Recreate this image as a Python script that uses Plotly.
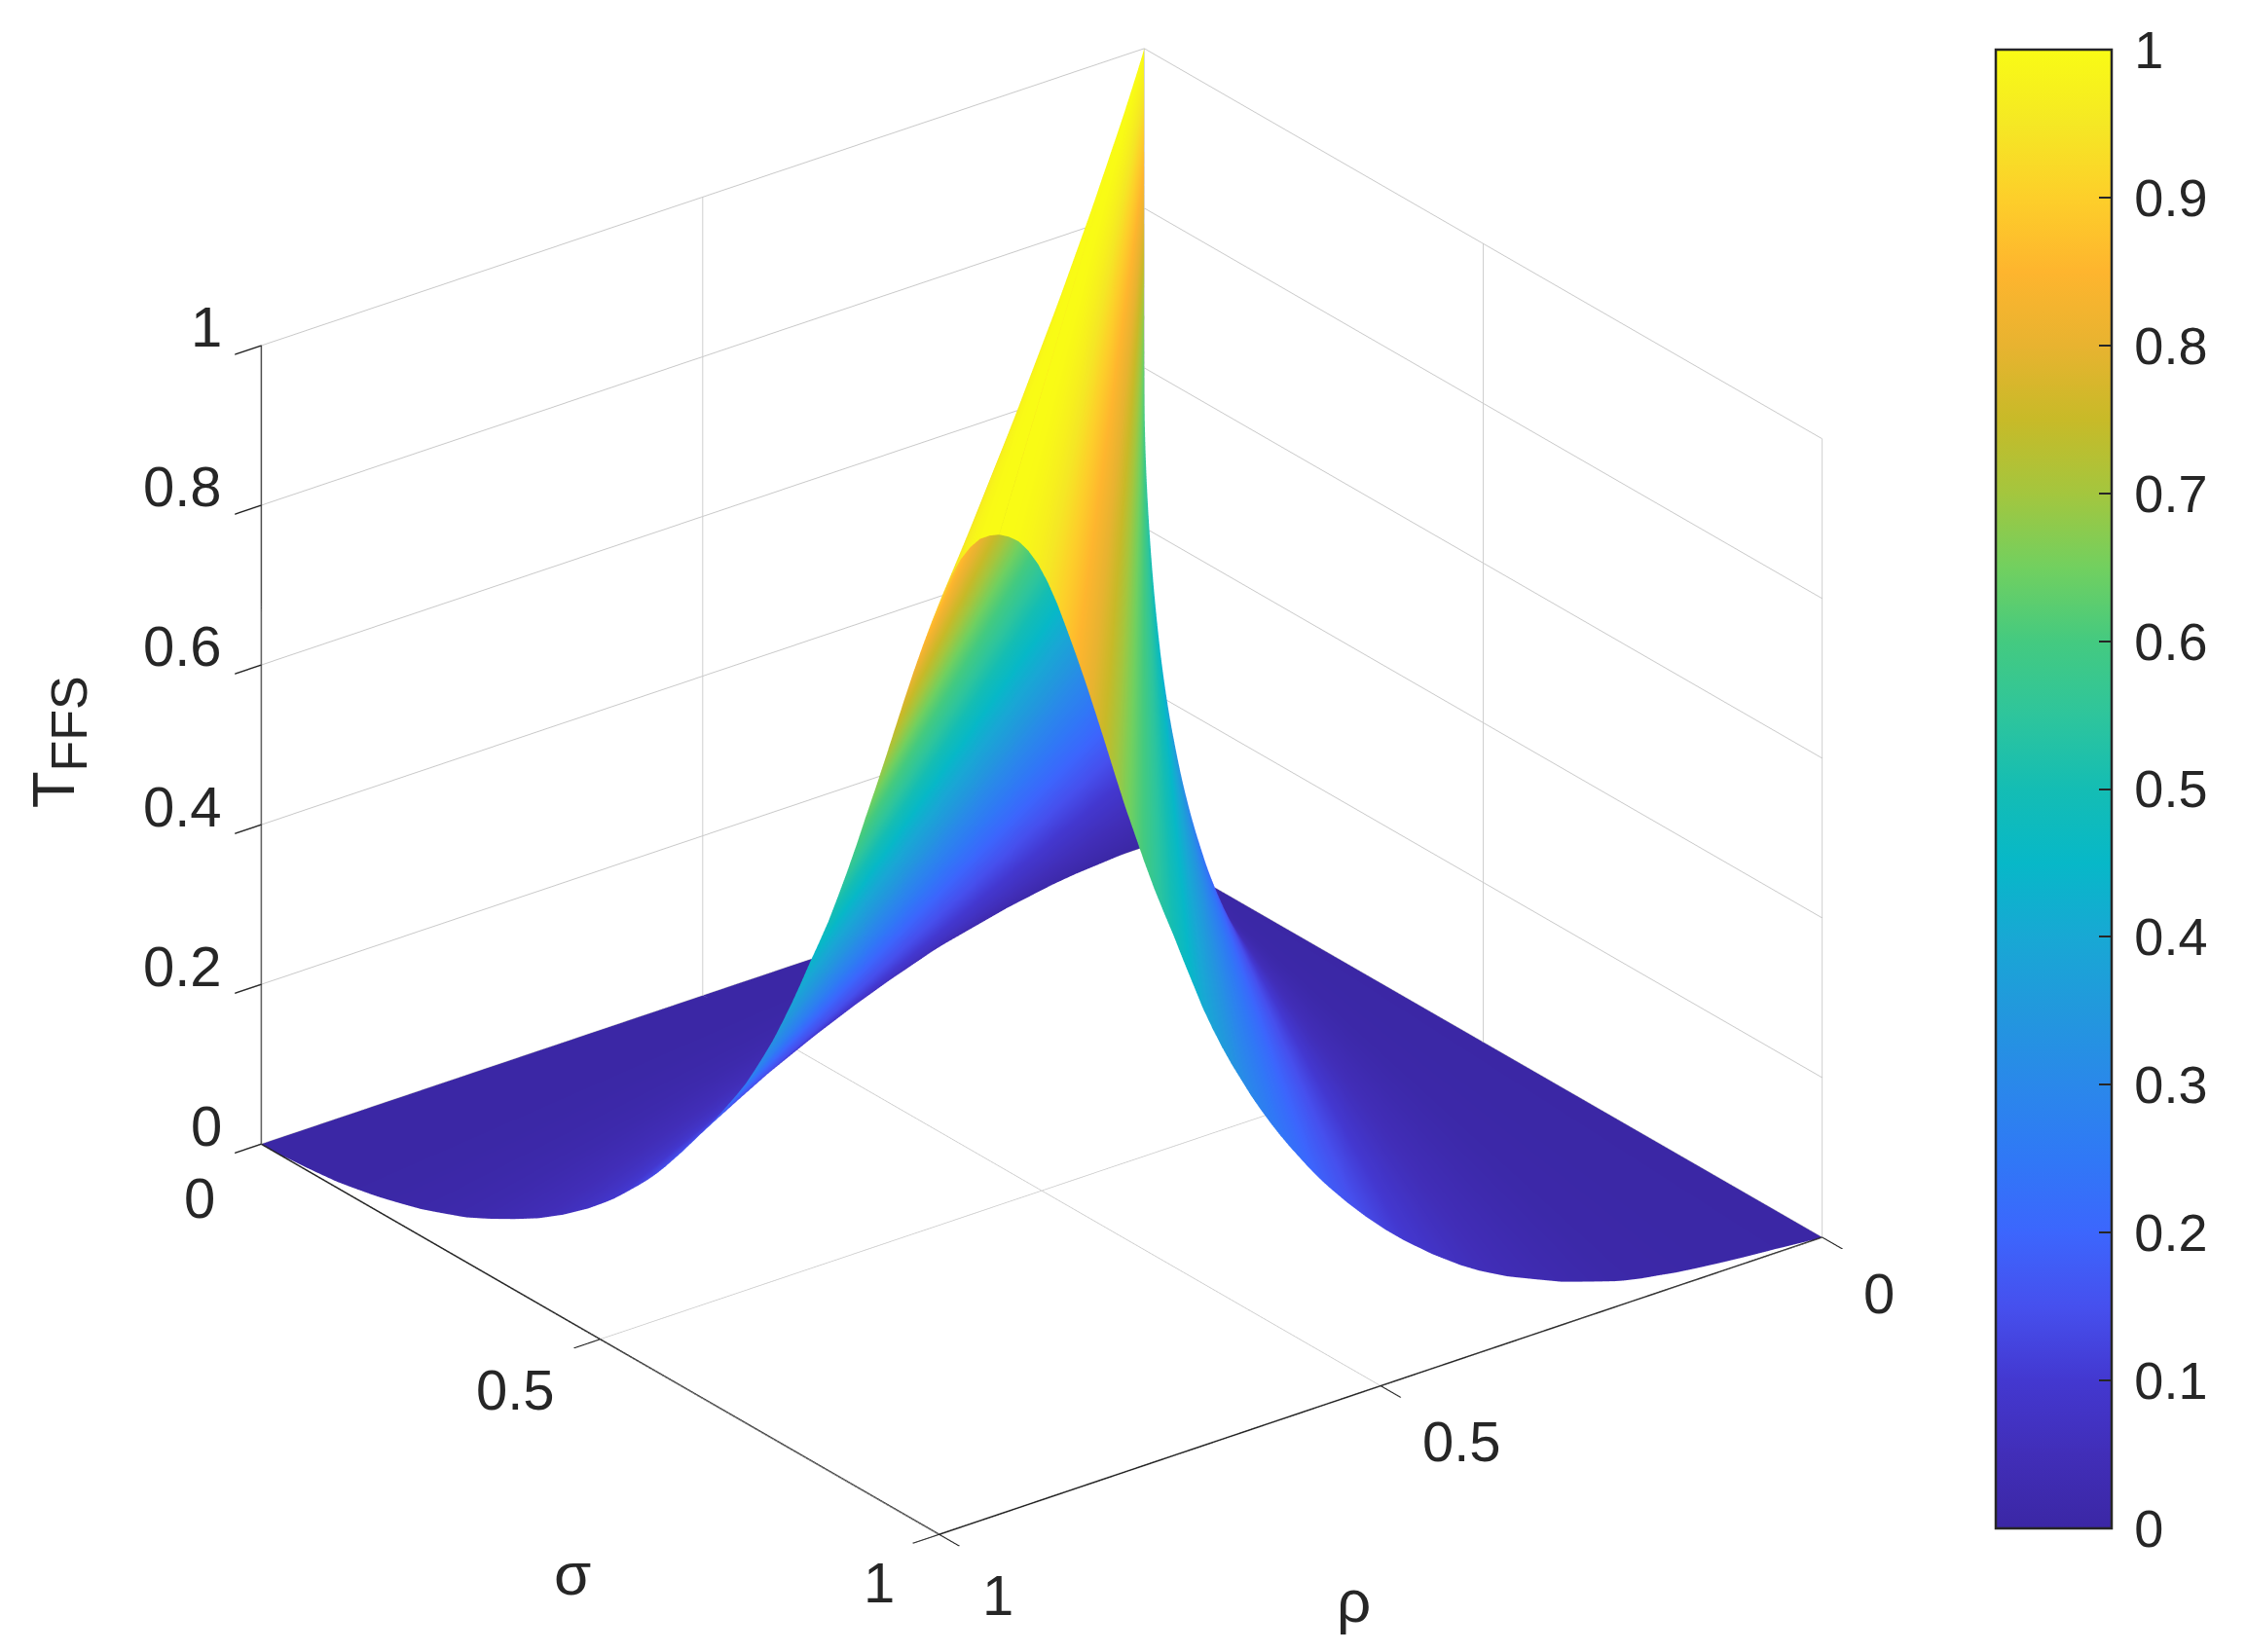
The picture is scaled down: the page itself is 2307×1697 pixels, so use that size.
import math
import plotly.graph_objects as go

# Values: the surface keeps a constant height along each ray from the
# origin. t_ffs holds that height for rays spaced half a degree apart, from the rho axis (0 deg)
# to the sigma axis (90 deg).
t_ffs = [
    0, 0.0001, 0.0002, 0.0003, 0.0005, 0.0007, 0.001, 0.0011, 0.0013, 0.0015, 0.0017, 0.0019, 0.002,
    0.0027, 0.0033, 0.004, 0.0047, 0.0053, 0.006, 0.007, 0.008, 0.009, 0.01, 0.011, 0.012,
    0.0137, 0.0153, 0.017, 0.0187, 0.0203, 0.022, 0.0247, 0.0273, 0.03, 0.033, 0.036, 0.039,
    0.0423, 0.0457, 0.049, 0.0533, 0.0577, 0.062, 0.0673, 0.0727, 0.078, 0.0845, 0.091, 0.098,
    0.106, 0.1145, 0.123, 0.132, 0.142, 0.153, 0.165, 0.177, 0.19, 0.203, 0.216, 0.23,
    0.245, 0.26, 0.276, 0.295, 0.315, 0.336, 0.36, 0.385, 0.412, 0.44, 0.467, 0.495,
    0.527, 0.56, 0.595, 0.632, 0.668, 0.705, 0.743, 0.781, 0.818, 0.853, 0.886, 0.917,
    0.944, 0.966, 0.982, 0.993, 0.998, 1.0,
    0.998, 0.993, 0.982, 0.966, 0.944, 0.917, 0.885, 0.852, 0.817, 0.78, 0.742, 0.703,
    0.665, 0.63, 0.595, 0.562, 0.532, 0.503, 0.472, 0.442, 0.412, 0.386, 0.362, 0.34,
    0.32, 0.3, 0.282, 0.265, 0.249, 0.234, 0.22, 0.206, 0.193, 0.181, 0.17, 0.159,
    0.149, 0.139, 0.13, 0.121, 0.113, 0.105, 0.098, 0.091, 0.084, 0.078, 0.072, 0.066,
    0.061, 0.056, 0.052, 0.048, 0.044, 0.041, 0.038, 0.035, 0.032, 0.029, 0.026, 0.024,
    0.022, 0.02, 0.018, 0.016, 0.014, 0.0125, 0.0115, 0.0105, 0.01, 0.0095, 0.0088, 0.008,
    0.0077, 0.0073, 0.007, 0.0067, 0.0063, 0.006, 0.0057, 0.0053, 0.005, 0.0047, 0.0043, 0.004,
    0.0033, 0.0027, 0.002, 0.0013, 0.0007, 0,
]
ray_angle_deg = [k / 2 for k in range(len(t_ffs))]
ray_radius = [0.0, 0.5, 1.0]

sigma_ticks = [0, 0.5, 1]
rho_ticks = [0, 0.5, 1]
t_ticks = [0, 0.2, 0.4, 0.6, 0.8, 1]
bar_ticks = [0, 0.1, 0.2, 0.3, 0.4, 0.5, 0.6, 0.7, 0.8, 0.9, 1]

parula = [
    [0.0, "#3b27a5"], [0.05, "#412eb8"], [0.1, "#4338d0"], [0.15, "#4650ee"],
    [0.2, "#3c66fd"], [0.25, "#3078f6"], [0.3, "#2a88ea"], [0.35, "#2298dd"],
    [0.4, "#18a8d4"], [0.45, "#07b8c8"], [0.5, "#14bdb4"], [0.55, "#2ec59c"],
    [0.6, "#44ca80"], [0.65, "#72d05f"], [0.7, "#a4c63e"], [0.75, "#c8ba28"],
    [0.8, "#e8b330"], [0.85, "#feb52e"], [0.9, "#fdcf2a"], [0.95, "#f5e824"],
    [1.0, "#f9fb15"],
]

INK = "#262626"
FONT = "Liberation Sans"
GRID = "#c8c8c8"
TICK_FONT = dict(family=FONT, size=58, color=INK)
TITLE_FONT = dict(family=FONT, size=62, color=INK)

x_grid = [[r * math.cos(math.radians(a)) for a in ray_angle_deg] for r in ray_radius]
y_grid = [[r * math.sin(math.radians(a)) for a in ray_angle_deg] for r in ray_radius]
z_grid = [list(t_ffs) for _ in ray_radius]

fig = go.Figure(go.Surface(
    x=x_grid, y=y_grid, z=z_grid,
    colorscale=parula, cmin=0, cmax=1,
    lighting=dict(ambient=1, diffuse=0, specular=0, roughness=1, fresnel=0),
    hoverinfo="skip",
    colorbar=dict(
        x=2050 / 2307, xanchor="left", xpad=0,
        y=(1697 - 1570) / 1697, yanchor="bottom", ypad=0,
        len=(1570 - 51) / 1697, lenmode="fraction",
        thickness=119, thicknessmode="pixels",
        outlinecolor=INK, outlinewidth=2.5,
        ticks="inside", ticklen=14, tickwidth=2, tickcolor=INK,
        tickvals=bar_ticks, ticktext=["\u2009" + str(v) for v in bar_ticks],
        tickfont=dict(family=FONT, size=54, color=INK),
    ),
))

# Heavier axis lines along the three labelled box edges.
for ex, ey, ez in [([1, 1], [0, 1], [0, 0]), ([0, 1], [1, 1], [0, 0]), ([1, 1], [0, 0], [0, 1])]:
    fig.add_trace(go.Scatter3d(
        x=ex, y=ey, z=ez, mode="lines", line=dict(color=INK, width=3),
        hoverinfo="skip", showlegend=False,
    ))


def axis(ticks):
    return dict(
        range=[0, 1], tickmode="array", tickvals=ticks, ticktext=[str(v) for v in ticks],
        showticklabels=False, title=dict(text=""),
        showgrid=True, gridcolor=GRID, gridwidth=2,
        showline=True, linecolor=INK, linewidth=3,
        ticks="outside", ticklen=34, tickcolor=INK, tickwidth=3,
        zeroline=False, showbackground=False, showspikes=False,
    )


def label(x, y, z, text, dx, dy, font=TICK_FONT, **kw):
    return dict(x=x, y=y, z=z, text=text, showarrow=False, font=font, xshift=dx, yshift=dy, **kw)


notes = []
for v in t_ticks:
    notes.append(label(1, 0, v, str(v), -38, 19, xanchor="right"))
for v, dx, dy in zip(sigma_ticks, [-63, -87, -62], [-55, -52, -49]):
    notes.append(label(1, v, 0, str(v), dx, dy))
for v, dx, dy in zip(rho_ticks, [58, 83, 60], [-58, -57, -62]):
    notes.append(label(v, 1, 0, str(v), dx, dy))
notes.append(label(1, 0.5, 0, "σ", -28, -241, TITLE_FONT))
notes.append(label(0.5, 1, 0, "ρ", -28, -221, TITLE_FONT))
notes.append(label(1, 0, 0.5, 'T<sub><span style="font-size:52px">FFS</span></sub>', -208, 3, TITLE_FONT, textangle=-90))

fig.update_layout(
    width=2307, height=1697, autosize=False,
    margin=dict(l=0, r=0, t=0, b=0),
    paper_bgcolor="white",
    showlegend=False,
    scene=dict(
        domain=dict(x=[0, 0.9276], y=[0.0425, 0.9995]),
        xaxis=axis(rho_ticks),
        yaxis=axis(sigma_ticks),
        zaxis=axis(t_ticks),
        annotations=notes,
        aspectmode="manual",
        aspectratio=dict(x=1.406, y=1.412, z=1.125),
        camera=dict(
            projection=dict(type="orthographic"),
            up=dict(x=0, y=0, z=1),
            center=dict(x=0, y=0, z=0),
            eye=dict(x=0.607 * 2, y=0.794 * 2, z=0.49 * 2),
        ),
    ),
)

fig.write_html("out.html", config=dict(displayModeBar=False), post_script="document.body.style.margin='0';")
